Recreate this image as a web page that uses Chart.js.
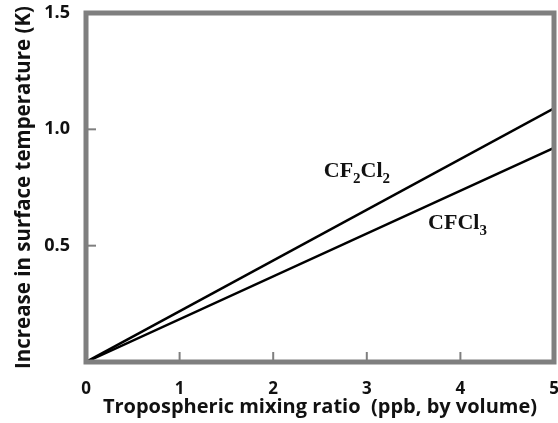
<!DOCTYPE html>
<html><head><meta charset="utf-8">
<script src="https://cdn.jsdelivr.net/npm/chart.js@4"></script>
<style>html,body{margin:0;padding:0;background:#fff}#wrap{width:558px;height:423px}</style>
</head><body><div id="wrap"><canvas id="c" width="558" height="423"></canvas></div>
<script>
const xValues = [0, 5];
const cf2cl2 = [0, 1.09];
const cfcl3 = [0, 0.92];
const seriesNames = ['CF2Cl2', 'CFCl3'];
const xTitle = 'Tropospheric mixing ratio  (ppb, by volume)';
const yTitle = 'Increase in surface temperature (K)';

const GRAY = '#7f7f7f';
const frame = {
  id: 'frame',
  afterDatasetsDraw(chart) {
    const {ctx, chartArea: a, scales: {x, y}} = chart;
    ctx.save();
    ctx.strokeStyle = GRAY;
    ctx.lineWidth = 2;
    [1,2,3,4].forEach(v => { const px = x.getPixelForValue(v); ctx.beginPath(); ctx.moveTo(px, a.bottom); ctx.lineTo(px, a.bottom - 10); ctx.stroke(); });
    [0.5,1.0].forEach(v => { const py = y.getPixelForValue(v); ctx.beginPath(); ctx.moveTo(a.left, py); ctx.lineTo(a.left + 10, py); ctx.stroke(); });
    ctx.lineWidth = 5;
    ctx.strokeRect(a.left, a.top, a.right - a.left, a.bottom - a.top);
    ctx.fillStyle = '#111';
    ctx.textBaseline = 'alphabetic';
    function chem(parts, px, py) {
      let cx = px;
      parts.forEach(p => {
        const sub = /^\d$/.test(p);
        ctx.font = (sub ? 'bold 15px' : 'bold 22px') + ' "Liberation Serif", serif';
        ctx.fillText(p, cx, py + (sub ? 6 : 0));
        cx += ctx.measureText(p).width;
      });
    }
    chem(['CF','2','Cl','2'], x.getPixelForValue(2.54), y.getPixelForValue(0.795));
    chem(['CFCl','3'], x.getPixelForValue(3.655), y.getPixelForValue(0.57));
    ctx.restore();
  }
};

new Chart(document.getElementById('c'), {
  type: 'scatter',
  data: {
    datasets: [
      { label: seriesNames[0], data: xValues.map((v,i)=>({x:v,y:cf2cl2[i]})), showLine: true, borderColor: '#000', borderWidth: 2.5, pointRadius: 0 },
      { label: seriesNames[1], data: xValues.map((v,i)=>({x:v,y:cfcl3[i]})), showLine: true, borderColor: '#000', borderWidth: 2.5, pointRadius: 0 }
    ]
  },
  options: {
    responsive: false, animation: false,
    layout: { padding: { top: 13, right: 4, left: 0, bottom: 0 } },
    plugins: { legend: { display: false }, tooltip: { enabled: false } },
    scales: {
      x: {
        type: 'linear', min: 0, max: 5,
        afterFit(s) { s.height = 61; s.paddingLeft = 0; s.paddingRight = 0; },
        border: { display: false },
        grid: { display: false },
        ticks: { stepSize: 1, color: '#111', font: { family: '"Open Sans", sans-serif', size: 17, weight: 'bold' }, padding: 9 },
        title: { display: true, text: xTitle, color: '#111', font: { family: '"Open Sans", sans-serif', size: 20, weight: 'bold' }, padding: { top: 0 } }
      },
      y: {
        type: 'linear', min: 0, max: 1.5,
        afterFit(s) { s.width = 86; s.paddingTop = 0; s.paddingBottom = 0; },
        border: { display: false },
        grid: { display: false },
        ticks: { stepSize: 0.5, color: '#111', font: { family: '"Open Sans", sans-serif', size: 18, weight: 'bold' }, padding: 8,
          callback: v => v === 0 ? '' : v.toFixed(1) },
        title: { display: true, text: yTitle, color: '#111', font: { family: '"Open Sans", sans-serif', size: 20.5, weight: 'bold' }, padding: { top: 12, bottom: 0 } }
      }
    }
  },
  plugins: [frame]
});
</script></body></html>
